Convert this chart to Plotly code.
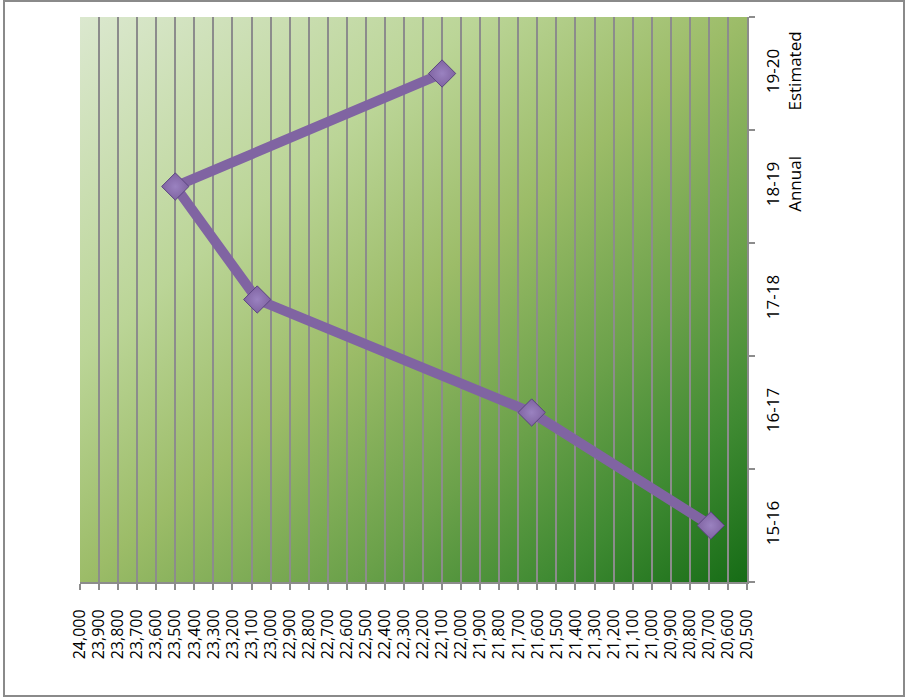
import base64
import plotly.graph_objects as go

# Fiscal-year categories (bottom to top) and their values
categories = ["15-16", "16-17", "17-18", "18-19", "19-20"]
tick_labels = ["15-16", "16-17", "17-18", "18-19<br>Annual", "19-20<br>Estimated"]
values = [20690, 21630, 23070, 23500, 22100]

# Value axis ticks, 24,000 on the left down to 20,500 on the right
value_ticks = list(range(20500, 24001, 100))

W, H = 906, 698
L, R, T, B = 80, 747, 17, 582  # plot-area edges in pixels

PURPLE = "#8064A2"
GRID = "#8c8c8c"
FONT = "Open Sans"

# Diagonal green gradient for the plot-area fill
svg = (
    '<svg xmlns="http://www.w3.org/2000/svg" width="100" height="100" '
    'viewBox="0 0 100 100" preserveAspectRatio="none">'
    '<defs><linearGradient id="g" x1="0" y1="0" x2="1" y2="1">'
    '<stop offset="0" stop-color="#dbe8cf"/>'
    '<stop offset="0.3" stop-color="#bbd597"/>'
    '<stop offset="0.5" stop-color="#9cbc68"/>'
    '<stop offset="0.7" stop-color="#6ba14a"/>'
    '<stop offset="0.85" stop-color="#3f8a32"/>'
    '<stop offset="1" stop-color="#166c16"/>'
    '</linearGradient></defs>'
    '<rect x="0" y="0" width="100" height="100" fill="url(#g)"/></svg>'
)
bg_uri = "data:image/svg+xml;base64," + base64.b64encode(svg.encode()).decode()

fig = go.Figure()
fig.add_trace(go.Scatter(
    x=values,
    y=categories,
    mode="lines+markers",
    line=dict(color=PURPLE, width=10),
    marker=dict(
        symbol="diamond",
        size=21,
        color=PURPLE,
        line=dict(color="#5b4580", width=1),
        gradient=dict(type="radial", color="#9a82c0"),
    ),
    hoverinfo="x+y",
    showlegend=False,
))

pw, ph = R - L, B - T
fig.add_shape(
    type="rect", xref="paper", yref="paper",
    x0=(4 - L) / pw, x1=(904 - L) / pw,
    y0=(B - 696) / ph, y1=(B - 1) / ph,
    line=dict(color="#8a8a8a", width=2),
    fillcolor="rgba(0,0,0,0)",
    layer="below",
)

fig.update_layout(
    width=W, height=H,
    margin=dict(l=L, r=W - R, t=T, b=H - B, autoexpand=False),
    paper_bgcolor="white",
    plot_bgcolor="rgba(0,0,0,0)",
    font=dict(family=FONT, size=17, color="black"),
    images=[dict(
        source=bg_uri, xref="paper", yref="paper",
        x=0, y=1, sizex=1, sizey=1,
        xanchor="left", yanchor="top",
        sizing="stretch", layer="below",
    )],
    xaxis=dict(
        range=[24000, 20500],
        tickmode="array",
        tickvals=value_ticks,
        tickformat=",",
        tickangle=-90,
        tickfont=dict(size=16),
        showgrid=True, gridcolor=GRID, gridwidth=2,
        zeroline=False,
        showline=True, linecolor=GRID, linewidth=2,
        ticks="outside", ticklen=6, tickcolor=GRID, tickwidth=2,
        ticklabelstandoff=13,
        automargin=False,
    ),
    yaxis=dict(
        type="category",
        categoryorder="array",
        categoryarray=categories,
        tickmode="array",
        tickvals=categories,
        ticktext=tick_labels,
        range=[-0.5, len(categories) - 0.5],
        side="right",
        tickangle=-90,
        tickfont=dict(size=17),
        tickson="boundaries",
        showgrid=False,
        zeroline=False,
        showline=True, linecolor=GRID, linewidth=2,
        ticks="outside", ticklen=6, tickcolor=GRID, tickwidth=2,
        ticklabelstandoff=10,
        automargin=False,
    ),
)

fig.write_html("out.html")
